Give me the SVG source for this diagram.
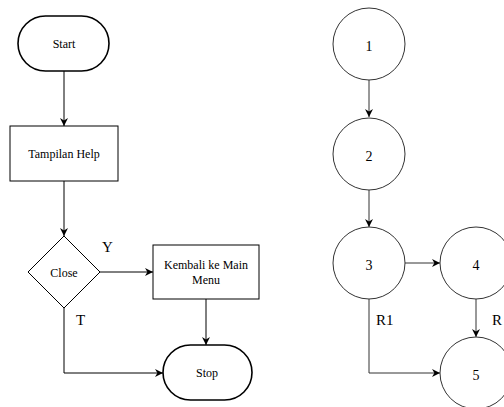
<svg xmlns="http://www.w3.org/2000/svg" width="504" height="407" viewBox="0 0 504 407">
<style>
text{font-family:"Liberation Serif","DejaVu Serif","Times New Roman",serif;fill:#000}
.t{font-size:12px;text-anchor:middle;dominant-baseline:central}
.n{font-size:14px;text-anchor:middle;dominant-baseline:central}
.l{font-size:15px}
.term{fill:#fff;stroke:#000;stroke-width:1.6}
.box{fill:#fff;stroke:#000;stroke-width:1}
.circ{fill:#fff;stroke:#333;stroke-width:1}
.c{fill:none;stroke:#000;stroke-width:1;marker-end:url(#a)}
.c2{fill:none;stroke:#333;stroke-width:1;marker-end:url(#a)}
</style>
<defs>
<marker id="a" viewBox="0 0 10 10" refX="10" refY="5" markerWidth="8" markerHeight="8" markerUnits="userSpaceOnUse" orient="auto">
<path d="M0,0 L10,5 L0,10 L3,5 Z" fill="#000"/>
</marker>
</defs>
<rect width="504" height="407" fill="#fff"/>
<g id="connectors">
<path class="c" d="M64,71 V126"/>
<path class="c" d="M64,181 V236"/>
<path class="c" d="M100,272 H153"/>
<path class="c" d="M206,299 V345"/>
<path class="c" d="M64,308 V373 H163"/>
<path class="c2" d="M369,80 V117"/>
<path class="c2" d="M369,190 V227"/>
<path class="c2" d="M405,263 H440"/>
<path class="c2" d="M476,299 V337"/>
<path class="c2" d="M369,299 V373 H440"/>
</g>
<g id="start"><rect class="term" x="18" y="16" width="91" height="55" rx="27.5"/><text class="t" x="64" y="44">Start</text></g>
<g id="tampilan"><rect class="box" x="10" y="126" width="108" height="55"/><text class="t" x="64" y="154">Tampilan Help</text></g>
<g id="close"><path class="box" d="M64,236 L100,272 L64,308 L28,272 Z"/><text class="t" x="64" y="273">Close</text></g>
<g id="kembali"><rect class="box" x="153" y="245" width="106" height="54"/><text class="t" x="206" y="265">Kembali ke Main</text><text class="t" x="206" y="280">Menu</text></g>
<g id="stop"><rect class="term" x="163" y="345" width="89" height="55" rx="27.5"/><text class="t" x="207" y="373">Stop</text></g>
<text class="l" x="102" y="252">Y</text>
<text class="l" x="76" y="325">T</text>
<g id="n1"><circle class="circ" cx="369" cy="44" r="36"/><text class="n" x="369" y="46">1</text></g>
<g id="n2"><circle class="circ" cx="369" cy="154" r="36"/><text class="n" x="369" y="156">2</text></g>
<g id="n3"><circle class="circ" cx="369" cy="263" r="36"/><text class="n" x="369" y="265">3</text></g>
<g id="n4"><circle class="circ" cx="476" cy="263" r="36"/><text class="n" x="476" y="265">4</text></g>
<g id="n5"><circle class="circ" cx="476" cy="373" r="36"/><text class="n" x="476" y="375">5</text></g>
<text class="l" x="376" y="325">R1</text>
<text class="l" x="492" y="325">R</text>
</svg>
